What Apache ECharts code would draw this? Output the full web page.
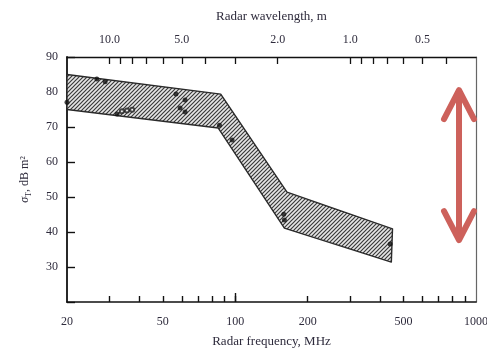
<!DOCTYPE html>
<html>
<head>
<meta charset="utf-8">
<script src="https://cdn.jsdelivr.net/npm/echarts@6/dist/echarts.min.js"></script>
<style>
  html, body { margin: 0; padding: 0; background: #fff; }
  #chart { width: 487px; height: 352px; }
</style>
</head>
<body>
<div id="chart"></div>
<script>
// Radar cross-section band (dB m²) versus radar frequency (MHz)
const bandUpperFreq = [20, 87, 164, 450];
const bandUpperDb   = [85, 79.4, 51.4, 40.9];
const bandLowerFreq = [20, 85, 160, 445];
const bandLowerDb   = [75, 69.7, 41.1, 31.4];

// individual measurements inside the band
const obsFreq = [20, 26.6, 28.8, 32.3, 56.7, 59, 61.9, 61.9, 86, 97, 159, 160, 440];
const obsDb   = [77.1, 83.7, 82.9, 73.7, 79.4, 75.4, 77.7, 74.3, 70.5, 66.3, 45.1, 43.4, 36.6];
const openFreq = [33.8, 35.5, 37.3];
const openDb   = [74.5, 74.7, 74.9];

// axis ticks
const freqMinorTicks = [30, 40, 50, 60, 70, 80, 90, 100, 200, 300, 400, 500, 600, 700, 800, 900];
const freqLabels = [20, 50, 100, 200, 500, 1000];
const wavelengthTicks = [10, 9, 8, 7, 6, 5, 4, 3, 2, 1, 0.9, 0.8, 0.7, 0.6, 0.5, 0.4];
const wavelengthLabels = [10, 5, 2, 1, 0.5];

// double arrow marking the spread of values
const spreadArrowFreq = 850;
const spreadArrowDb = [81.1, 37.1];

// wavelength (m) <-> frequency (MHz)
const toFreq = (lambda) => 300 / lambda;

const SERIF = '"Liberation Serif", "DejaVu Serif", serif';
const TEXT = '#2e2b3c';

function hatchPattern() {
  const p = 4;
  const c = document.createElement('canvas');
  c.width = p; c.height = p;
  const g = c.getContext('2d');
  g.fillStyle = '#e6e6e6';
  g.fillRect(0, 0, p, p);
  g.strokeStyle = '#3a3a3a';
  g.lineWidth = 1.2;
  g.beginPath();
  g.moveTo(-1, p + 1); g.lineTo(p + 1, -1);
  g.moveTo(-1, 1); g.lineTo(1, -1);
  g.moveTo(p - 1, p + 1); g.lineTo(p + 1, p - 1);
  g.stroke();
  return c;
}
const hatch = { image: hatchPattern(), repeat: 'repeat' };

const chart = echarts.init(document.getElementById('chart'), null, { renderer: 'canvas' });

const axisFont = { fontFamily: SERIF, fontSize: 12, color: TEXT };

const option = {
  animation: false,
  backgroundColor: '#ffffff',
  grid: { left: 67, right: 11, top: 57, bottom: 50, containLabel: false, outerBoundsMode: 'none' },
  xAxis: [
    {
      type: 'log', logBase: 10, min: 20, max: 1000, position: 'bottom',
      name: 'Radar frequency, MHz', nameLocation: 'middle', nameGap: 33,
      nameTextStyle: { fontFamily: SERIF, fontSize: 13, color: TEXT },
      axisLine: { show: true, lineStyle: { color: '#111', width: 1.6 } },
      axisTick: { show: true, inside: true, length: 6, customValues: freqMinorTicks, lineStyle: { color: '#111', width: 1.4 } },
      minorTick: { show: false },
      splitLine: { show: false },
      axisLabel: Object.assign({ customValues: freqLabels, margin: 14, formatter: (v) => String(Math.round(v)) }, axisFont)
    },
    {
      type: 'log', logBase: 10, min: 20, max: 1000, position: 'top',
      name: 'Radar wavelength, m', nameLocation: 'middle', nameGap: 34,
      nameTextStyle: { fontFamily: SERIF, fontSize: 13, color: TEXT },
      axisLine: { show: true, lineStyle: { color: '#111', width: 1.4 } },
      axisTick: { show: true, inside: true, length: 7, customValues: wavelengthTicks.map(toFreq), lineStyle: { color: '#111', width: 1.3 } },
      splitLine: { show: false },
      axisLabel: Object.assign({
        customValues: wavelengthLabels.map(toFreq), margin: 11,
        formatter: (v) => (300 / v).toFixed(1)
      }, axisFont)
    },
    {
      // longer tick marking the 100 MHz decade
      type: 'log', logBase: 10, min: 20, max: 1000, position: 'bottom',
      axisLine: { show: false },
      axisTick: { show: true, inside: true, length: 9, customValues: [100], lineStyle: { color: '#111', width: 1.4 } },
      axisLabel: { show: false },
      splitLine: { show: false }
    }
  ],
  yAxis: [
    {
      type: 'value', min: 20, max: 90, interval: 10, position: 'left',
      name: '{sig|σ}{sub|T}, dB m²', nameLocation: 'middle', nameGap: 34,
      nameTextStyle: {
        fontFamily: SERIF, fontSize: 12, color: TEXT,
        rich: {
          sig: { fontFamily: SERIF, fontSize: 12, fontStyle: 'italic', color: TEXT },
          sub: { fontFamily: SERIF, fontSize: 8, color: TEXT, verticalAlign: 'bottom', lineHeight: 16 }
        }
      },
      axisLine: { show: true, lineStyle: { color: '#111', width: 1.8 } },
      axisTick: { show: true, inside: true, length: 8, lineStyle: { color: '#111', width: 1.4 } },
      splitLine: { show: false },
      axisLabel: Object.assign({ margin: 9, formatter: (v) => (v === 20 ? '' : String(v)) }, axisFont)
    },
    {
      type: 'value', min: 20, max: 90, interval: 10, position: 'right',
      axisLine: { show: true, lineStyle: { color: '#666', width: 1.2 } },
      axisTick: { show: false },
      axisLabel: { show: false },
      splitLine: { show: false }
    }
  ],
  series: [
    {
      name: 'band',
      type: 'custom',
      xAxisIndex: 0, yAxisIndex: 0,
      data: [0],
      renderItem: function (params, api) {
        const pts = [];
        for (let i = 0; i < bandUpperFreq.length; i++) pts.push(api.coord([bandUpperFreq[i], bandUpperDb[i]]));
        for (let i = bandLowerFreq.length - 1; i >= 0; i--) pts.push(api.coord([bandLowerFreq[i], bandLowerDb[i]]));
        return {
          type: 'polygon',
          shape: { points: pts },
          style: { fill: hatch, stroke: '#2a2a2a', lineWidth: 1.4, lineJoin: 'round' }
        };
      },
      z: 2
    },
    {
      name: 'measured',
      type: 'scatter',
      xAxisIndex: 0, yAxisIndex: 0,
      symbol: 'circle', symbolSize: 5,
      itemStyle: { color: '#111' },
      data: obsFreq.map((f, i) => [f, obsDb[i]]),
      z: 3
    },
    {
      name: 'measured (open)',
      type: 'scatter',
      xAxisIndex: 0, yAxisIndex: 0,
      symbol: 'emptyCircle', symbolSize: 4,
      itemStyle: { color: '#222', borderColor: '#222', borderWidth: 1 },
      data: openFreq.map((f, i) => [f, openDb[i]]),
      z: 3
    }
  ]
};

chart.setOption(option);

// spread arrow drawn on top of the plot
function drawArrow() {
  const top = chart.convertToPixel({ xAxisIndex: 0, yAxisIndex: 0 }, [spreadArrowFreq, spreadArrowDb[0]]);
  const bot = chart.convertToPixel({ xAxisIndex: 0, yAxisIndex: 0 }, [spreadArrowFreq, spreadArrowDb[1]]);
  const headW = 15, headH = 31;
  const red = '#cd615b';
  const st = { stroke: red, lineWidth: 6, lineCap: 'round', lineJoin: 'round', fill: null };
  chart.setOption({
    graphic: [
      { type: 'polyline', z: 50, shape: { points: [[top[0], top[1] + 4], [bot[0], bot[1] - 4]] }, style: st },
      { type: 'polyline', z: 50, shape: { points: [[top[0] - headW, top[1] + headH], [top[0], top[1] + 2], [top[0] + headW, top[1] + headH]] }, style: st },
      { type: 'polyline', z: 50, shape: { points: [[bot[0] - headW, bot[1] - headH], [bot[0], bot[1] - 2], [bot[0] + headW, bot[1] - headH]] }, style: st }
    ]
  });
}
drawArrow();
</script>
</body>
</html>
